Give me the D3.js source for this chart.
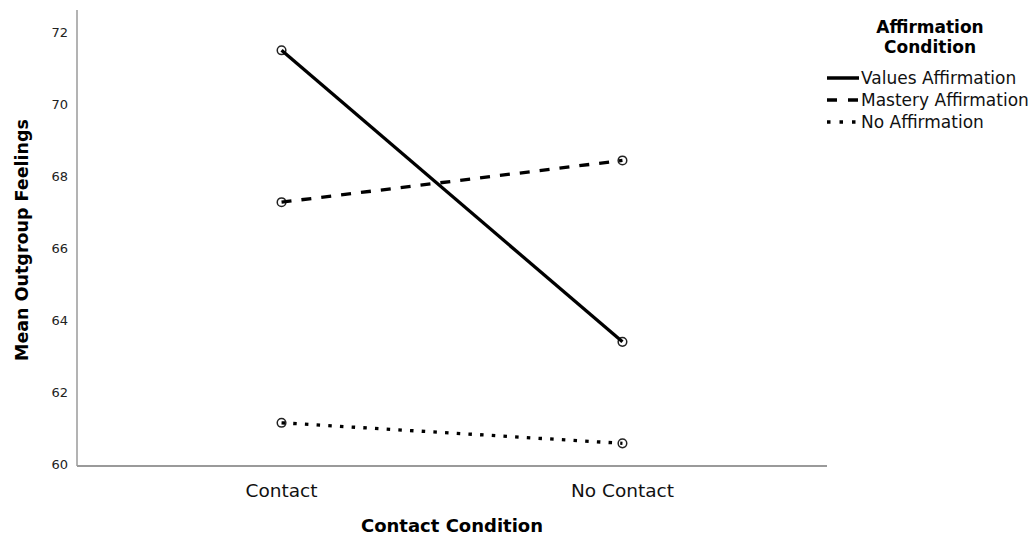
<!DOCTYPE html>
<html><head><meta charset="utf-8">
<script src="https://cdn.jsdelivr.net/npm/d3@7"></script>
<style>body{margin:0;background:#fff}svg{display:block}</style>
</head><body>
<svg id="c" width="1034" height="542"></svg>
<script>
const categories = ["Contact", "No Contact"];
const seriesNames = ["Values Affirmation", "Mastery Affirmation", "No Affirmation"];
const valuesAffirmation = [71.5, 63.4];
const masteryAffirmation = [67.28, 68.44];
const noAffirmation = [61.15, 60.58];
const yTicks = [60, 62, 64, 66, 68, 70, 72];

const series = [
  {name: seriesNames[0], values: valuesAffirmation, dash: null},
  {name: seriesNames[1], values: masteryAffirmation, dash: "10,10"},
  {name: seriesNames[2], values: noAffirmation, dash: "3.5,8.2"}
];

const svg = d3.select("#c");
const pLeft = 77, pRight = 827, pTop = 10, pBottom = 466;
const x = d3.scalePoint().domain(categories).range([pLeft, pRight]).padding(0.6);
const y = d3.scaleLinear().domain([59.95, 72.62]).range([pBottom, pTop]);
const font = "'DejaVu Sans', Verdana, sans-serif";

// axes
svg.append("line").attr("x1", pLeft).attr("x2", pLeft).attr("y1", pTop).attr("y2", pBottom)
  .attr("stroke", "#9a9a9a").attr("stroke-width", 1.5);
svg.append("line").attr("x1", pLeft).attr("x2", pRight).attr("y1", pBottom).attr("y2", pBottom)
  .attr("stroke", "#9a9a9a").attr("stroke-width", 2);

svg.append("g").selectAll("text").data(yTicks).join("text")
  .attr("x", 68).attr("y", d => y(d)).attr("dy", "0.35em")
  .attr("text-anchor", "end").attr("font-family", font).attr("font-size", 13)
  .attr("fill", "#222").text(d => d);

svg.append("g").selectAll("text").data(categories).join("text")
  .attr("x", d => x(d)).attr("y", 497).attr("text-anchor", "middle")
  .attr("font-family", font).attr("font-size", 18.5).attr("fill", "#111")
  .text(d => d);

svg.append("text").attr("x", 452).attr("y", 532).attr("text-anchor", "middle")
  .attr("font-family", font).attr("font-size", 18).attr("font-weight", "bold")
  .text("Contact Condition");

svg.append("text").attr("transform", "translate(28,240) rotate(-90)")
  .attr("text-anchor", "middle").attr("font-family", font).attr("font-size", 17.5)
  .attr("font-weight", "bold").text("Mean Outgroup Feelings");

// markers then lines
series.forEach(s => {
  svg.append("g").selectAll("circle").data(s.values).join("circle")
    .attr("cx", (d, i) => x(categories[i])).attr("cy", d => y(d)).attr("r", 4.3)
    .attr("fill", "#fff").attr("stroke", "#222").attr("stroke-width", 1.5);
});
const line = d3.line().x((d, i) => x(categories[i])).y(d => y(d));
series.forEach(s => {
  svg.append("path").attr("d", line(s.values)).attr("fill", "none")
    .attr("stroke", "#000").attr("stroke-width", 3.3)
    .attr("stroke-dasharray", s.dash);
});

// legend
svg.append("text").attr("x", 930).attr("y", 33).attr("text-anchor", "middle")
  .attr("font-family", font).attr("font-size", 17).attr("font-weight", "bold").text("Affirmation");
svg.append("text").attr("x", 930).attr("y", 53).attr("text-anchor", "middle")
  .attr("font-family", font).attr("font-size", 17).attr("font-weight", "bold").text("Condition");
const lg = svg.append("g").selectAll("g").data(series).join("g")
  .attr("transform", (d, i) => `translate(827,${78 + i * 22})`);
lg.append("line").attr("x1", 0).attr("x2", 32).attr("y1", 0).attr("y2", 0)
  .attr("stroke", "#000").attr("stroke-width", 3.5)
  .attr("stroke-dasharray", (d, i) => i === 0 ? null : (i === 1 ? "10,11" : "3.5,9"));
lg.append("text").attr("x", 34).attr("y", 0).attr("dy", "0.35em")
  .attr("font-family", font).attr("font-size", 17).attr("fill", "#111")
  .text(d => d.name);
</script>
</body></html>
